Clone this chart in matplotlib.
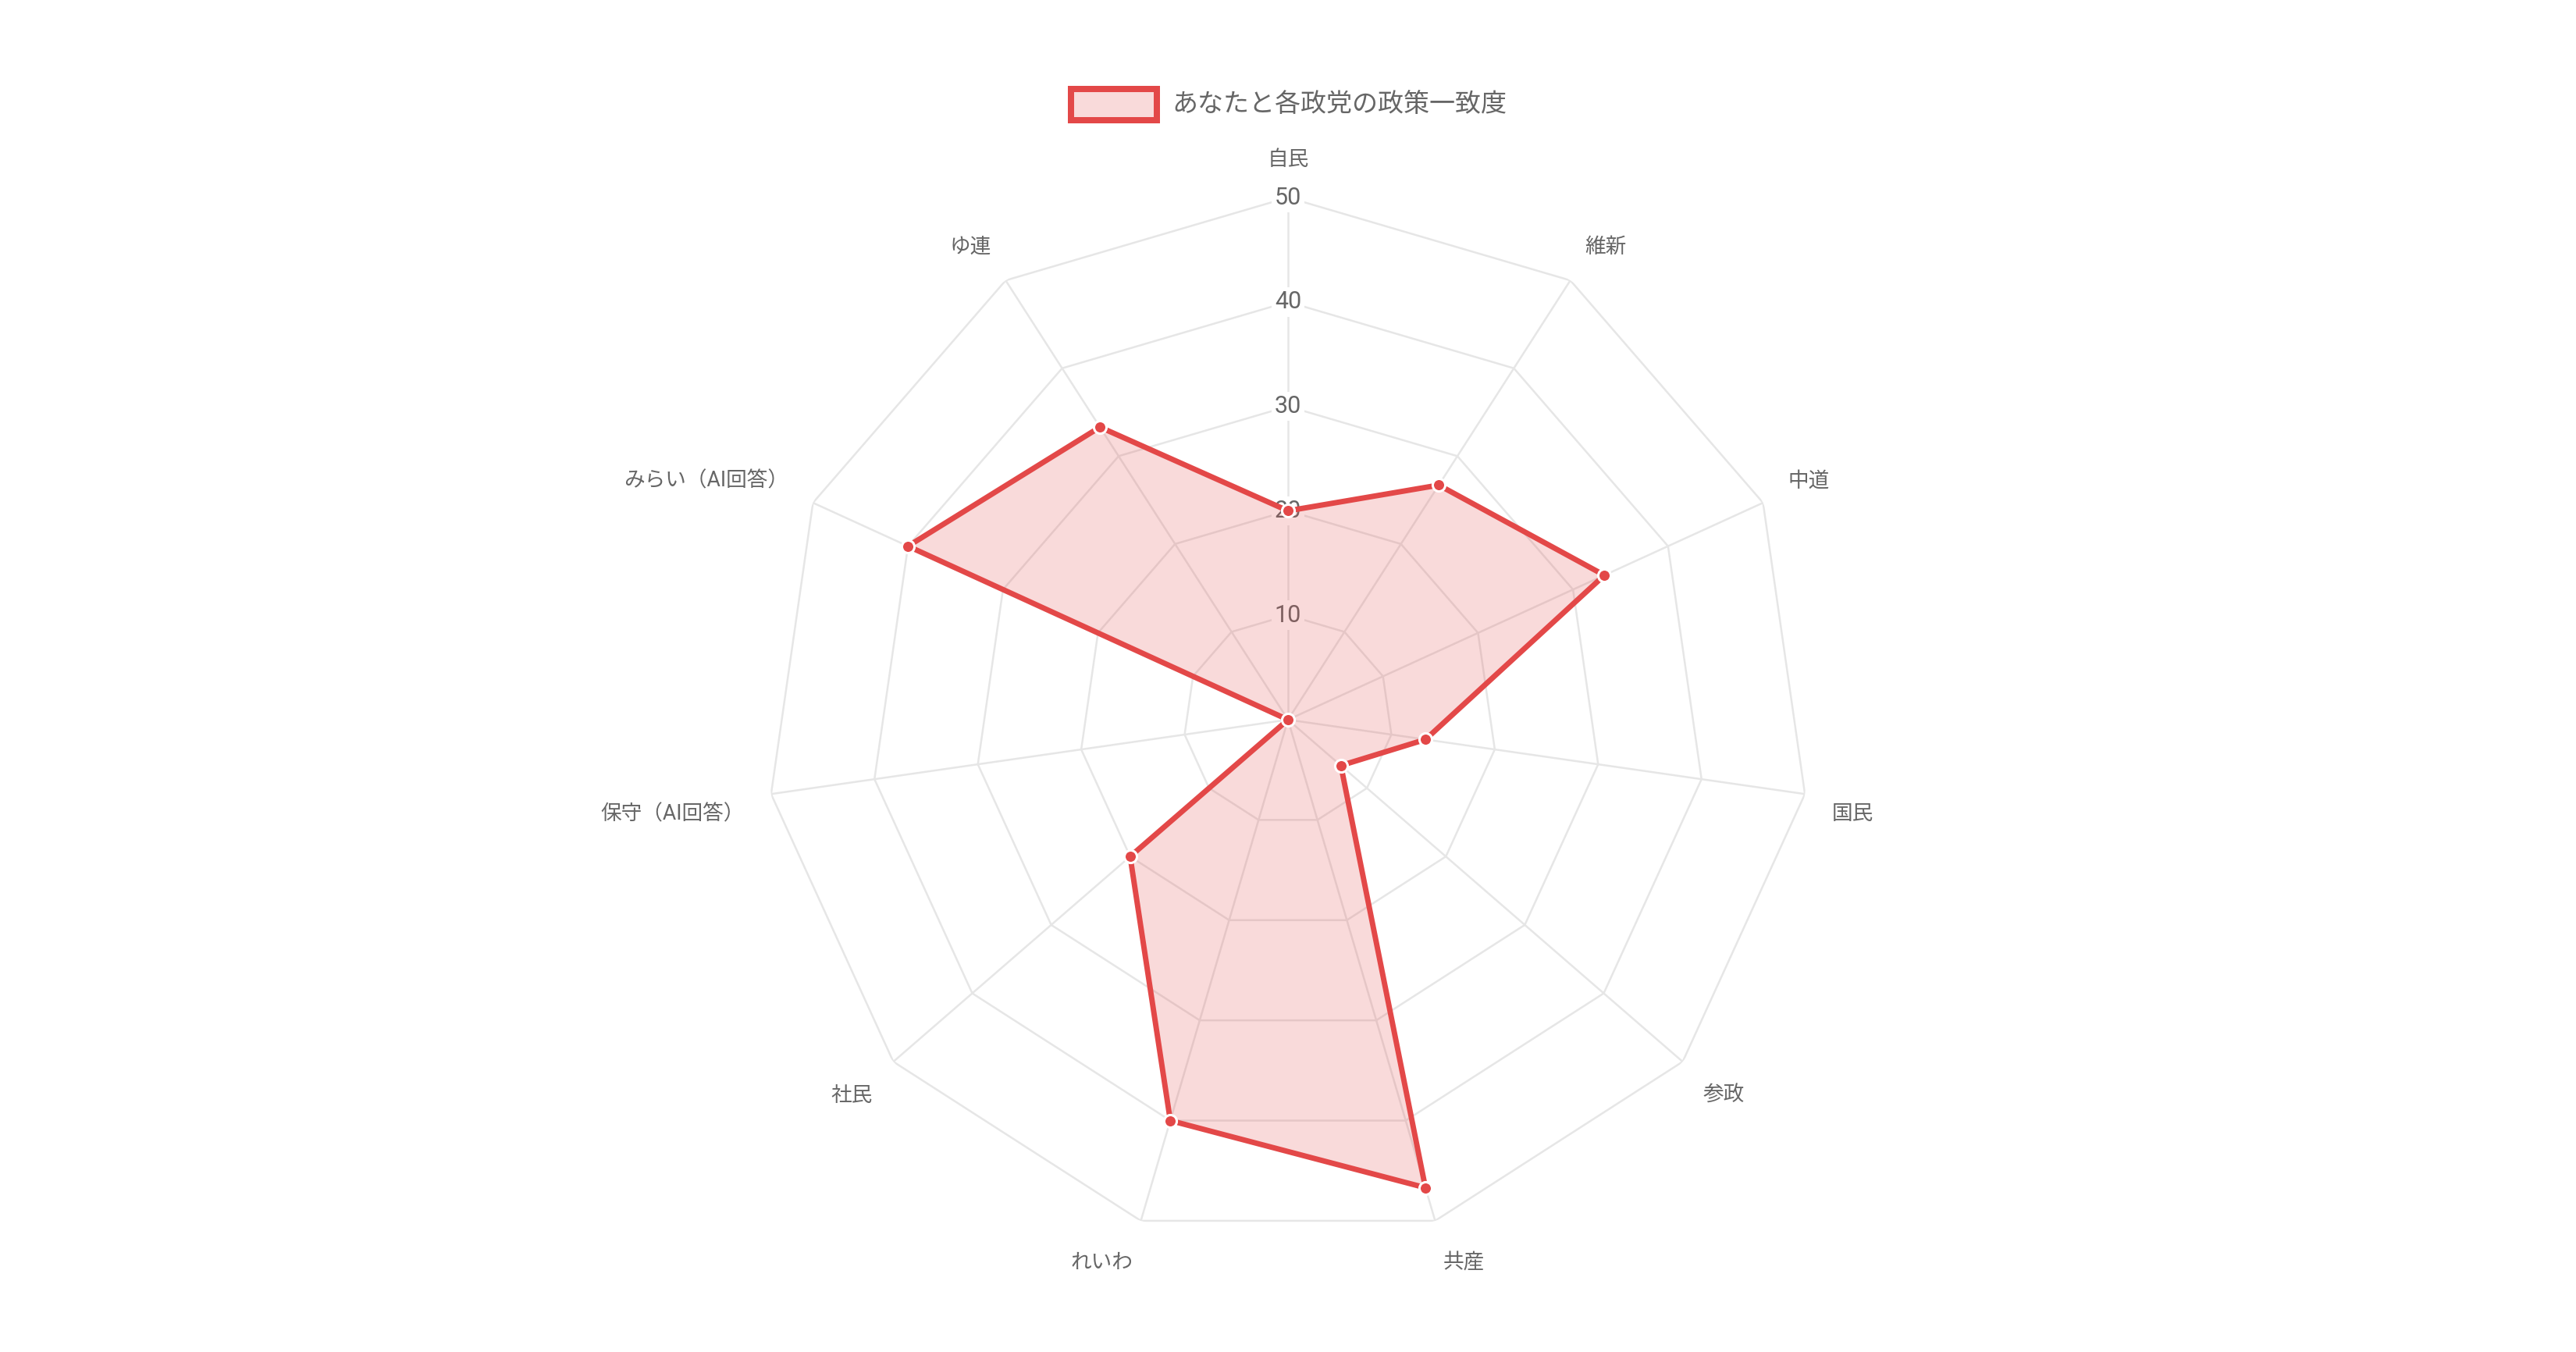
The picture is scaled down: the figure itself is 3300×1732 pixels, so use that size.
import numpy as np
import matplotlib
matplotlib.use("Agg")
import matplotlib.pyplot as plt
import matplotlib.patches as mpatches
from matplotlib.transforms import offset_copy

FONTS = ["Roboto", "Noto Sans CJK JP", "DejaVu Sans"]
plt.rcParams["font.family"] = FONTS

# data
parties = ["自民", "維新", "中道", "国民", "参政", "共産", "れいわ", "社民",
           "保守（AI回答）", "みらい（AI回答）", "ゆ連"]
match_pct = [20, 26.7, 33.3, 13.3, 6.7, 46.7, 40, 20, 0, 40, 33.3]
r_ticks = [10, 20, 30, 40, 50]
series_label = "あなたと各政党の政策一致度"

RED = "#E34848"
GRID = "#E6E6E6"
TEXT = "#666666"

W, H, DPI = 3300, 1732, 200
fig = plt.figure(figsize=(W / DPI, H / DPI), dpi=DPI, facecolor="white")

# radar area: centre (1650, 922) px, radius 669 px
cx, cy, rad = 1650, 922, 669
ax = fig.add_axes([(cx - rad) / W, (H - cy - rad) / H, 2 * rad / W, 2 * rad / H],
                  projection="polar")
ax.set_theta_zero_location("N")
ax.set_theta_direction(-1)
ax.set_ylim(0, r_ticks[-1])
ax.grid(False)
ax.set_xticks([])
ax.set_yticks([])
ax.spines["polar"].set_visible(False)
ax.patch.set_visible(False)

n = len(parties)
angles = np.linspace(0, 2 * np.pi, n, endpoint=False)
closed = np.append(angles, angles[0])

# polygon grid + spokes
for r in r_ticks:
    ax.plot(closed, [r] * (n + 1), color=GRID, lw=0.9, zorder=1)
for a in angles:
    ax.plot([a, a], [0, r_ticks[-1]], color=GRID, lw=0.9, zorder=1)

# tick labels with white backdrop
for r in r_ticks:
    ax.text(0, r, str(r), ha="center", va="center", fontsize=11, color=TEXT,
            zorder=2, bbox=dict(facecolor="white", edgecolor="none", pad=1.5))

# data
vals = np.append(match_pct, match_pct[0])
ax.fill(closed, vals, color=RED, alpha=0.2, lw=0, zorder=3)
ax.plot(closed, vals, color=RED, lw=2.5, zorder=4)
ax.plot(angles, match_pct, ls="none", marker="o", ms=5.8, mfc=RED, mec="white",
        mew=1.1, zorder=5, clip_on=False)

# point labels (chart.js style alignment)
r_lab = r_ticks[-1] + 2.6
below = offset_copy(ax.transData, fig=fig, x=0, y=-7, units="dots")
for a, name in zip(angles, parties):
    deg = np.degrees(a)
    if np.isclose(deg, 0) or np.isclose(deg, 180):
        ha = "center"
    elif deg < 180:
        ha = "left"
    else:
        ha = "right"
    tr = ax.transData
    if deg < 90 or deg > 270:
        va = "bottom"
    else:
        va = "top"
        tr = below
    ax.text(a, r_lab, name, ha=ha, va=va, fontsize=9.6, color=TEXT, transform=tr)

# legend
lw_px = 8
box = mpatches.Rectangle(((1368 + lw_px / 2) / W, (H - 158 + lw_px / 2) / H),
                         (118 - lw_px) / W, (48 - lw_px) / H,
                         transform=fig.transFigure, facecolor="#F9DADA",
                         edgecolor=RED, lw=lw_px * 72 / DPI)
fig.patches.append(box)
fig.text(1501 / W, (H - 134) / H, series_label, ha="left", va="center",
         fontsize=11.9, color=TEXT)

fig.savefig("out.png", dpi=DPI, facecolor="white")
